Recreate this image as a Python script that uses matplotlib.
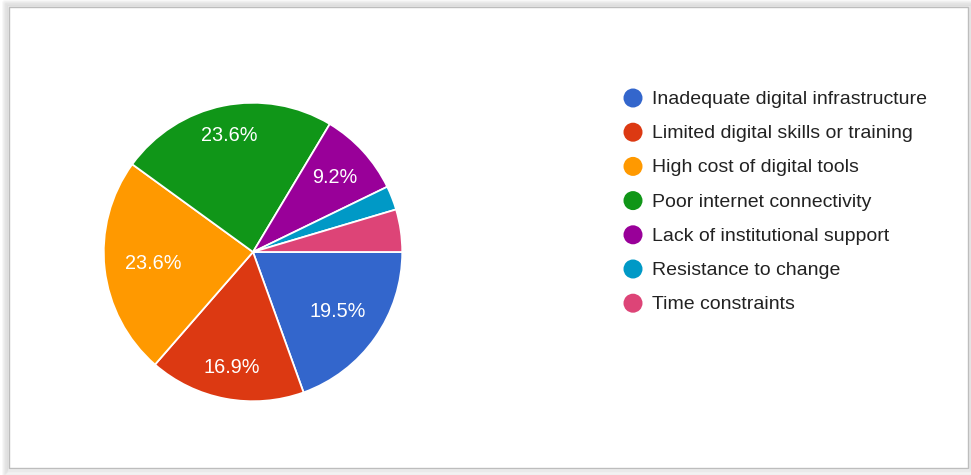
import numpy as np
import matplotlib
matplotlib.use("Agg")
import matplotlib.pyplot as plt
from matplotlib.patches import Rectangle, Circle

# Survey responses: barriers to digital adoption (percent of respondents)
categories = [
    "Inadequate digital infrastructure",
    "Limited digital skills or training",
    "High cost of digital tools",
    "Poor internet connectivity",
    "Lack of institutional support",
    "Resistance to change",
    "Time constraints",
]
shares = [19.5, 16.9, 23.6, 23.6, 9.2, 2.6, 4.6]
colors = ["#3366CC", "#DC3912", "#FF9900", "#109618", "#990099", "#0099C6", "#DD4477"]
# radial placement of the in-slice percentage labels (None = no label)
label_radius = [0.69, 0.79, 0.67, 0.80, 0.74, None, None]

W, H = 971, 475
fig = plt.figure(figsize=(W / 100, H / 100), dpi=100)
fig.patch.set_facecolor("white")

def px(x, y, w, h):
    """Pixel box (top-left origin) -> figure fraction rect."""
    return [x / W, (H - y - h) / H, w / W, h / H]

# framed panel with a soft shadow
bg = fig.add_axes([0, 0, 1, 1])
bg.set_xlim(0, W)
bg.set_ylim(H, 0)
bg.axis("off")
for k in range(8, 0, -1):
    bg.add_patch(Rectangle((9 - k * 0.7, 7 - k * 0.7), 959 + k * 1.4, 461 + k * 1.8,
                           facecolor="none", edgecolor="#707070",
                           alpha=0.06, linewidth=1.8))
bg.add_patch(Rectangle((9, 7), 959, 461, facecolor="white",
                       edgecolor="#bdbdbd", linewidth=1.0))

# pie
cx, cy, R = 253, 252, 150
ax = fig.add_axes(px(cx - R, cy - R, 2 * R, 2 * R))
wedges, _ = ax.pie(shares, colors=colors, startangle=0, counterclock=False,
                   radius=1.0,
                   wedgeprops=dict(edgecolor="white", linewidth=1.3))
ax.set_xlim(-1.005, 1.005)
ax.set_ylim(-1.005, 1.005)
ax.set_aspect("equal")
ax.axis("off")

for w, val, r in zip(wedges, shares, label_radius):
    if r is None:
        continue
    mid = np.deg2rad((w.theta1 + w.theta2) / 2)
    ax.text(r * np.cos(mid), r * np.sin(mid), f"{val:.1f}%",
            ha="center", va="center", color="white", fontsize=14.3,
            family="Liberation Sans")

# legend
lx, ly0, dy = 633, 98, 34.2
for i, (lab, col) in enumerate(zip(categories, colors)):
    y = ly0 + i * dy
    bg.add_patch(Circle((lx, y), 9.5, facecolor=col, edgecolor="none"))
    bg.text(lx + 19, y + 1.5, lab, ha="left", va="center", fontsize=14.0,
            color="#222222", family="Liberation Sans")

fig.savefig("out.png", dpi=100, facecolor="white")
